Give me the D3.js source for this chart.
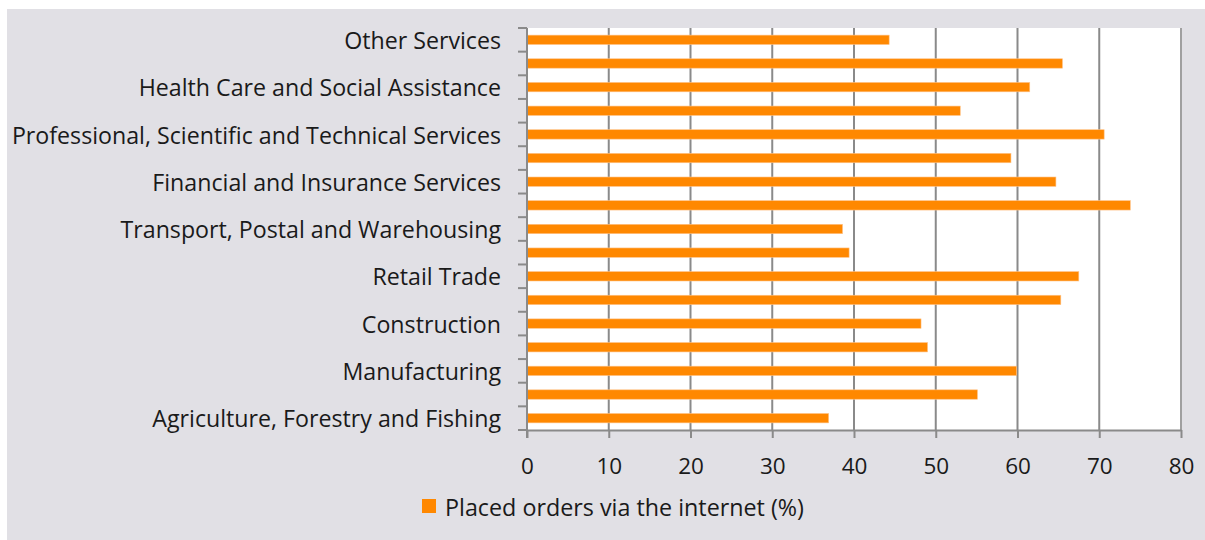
<!DOCTYPE html>
<html>
<head>
<meta charset="utf-8">
<script src="https://cdn.jsdelivr.net/npm/d3@7"></script>
<style>
  html, body { margin: 0; padding: 0; background: #ffffff; }
  svg { display: block; }
  text { font-family: "Open Sans", sans-serif; fill: #1a1a1a; }
</style>
</head>
<body>
<svg id="chart" width="1205" height="540"></svg>
<script>
// Categories, bottom to top
const categories = [
  "Agriculture, Forestry and Fishing",
  "Mining",
  "Manufacturing",
  "Electricity, Gas, Water and Waste Services",
  "Construction",
  "Wholesale Trade",
  "Retail Trade",
  "Accommodation and Food Services",
  "Transport, Postal and Warehousing",
  "Information Media and Telecommunications",
  "Financial and Insurance Services",
  "Rental, Hiring and Real Estate Services",
  "Professional, Scientific and Technical Services",
  "Administrative and Support Services",
  "Health Care and Social Assistance",
  "Arts and Recreation Services",
  "Other Services"
];
const values = [36.9, 55.1, 59.9, 49.0, 48.2, 65.3, 67.5, 39.4, 38.6, 73.8, 64.7, 59.2, 70.6, 53.0, 61.5, 65.5, 44.3];
const seriesName = "Placed orders via the internet (%)";
const xTicks = [0, 10, 20, 30, 40, 50, 60, 70, 80];

const svg = d3.select("#chart");
const W = 1205, H = 540;
const m = { left: 527, right: 1181, top: 28, bottom: 430 };
const FONT = "'Open Sans', sans-serif";

// background
svg.append("rect").attr("x", 7).attr("y", 9).attr("width", W - 7).attr("height", H - 9).attr("fill", "#e1e0e5");
svg.append("rect").attr("x", m.left).attr("y", m.top).attr("width", m.right - m.left).attr("height", m.bottom - m.top).attr("fill", "#ffffff");

const x = d3.scaleLinear().domain([0, 80]).range([m.left, m.right]);
const yOuter = d3.scaleBand().domain(categories).range([m.bottom, m.top]);

// gridlines
svg.append("g").selectAll("line").data(xTicks.filter(d => d > 0)).join("line")
  .attr("x1", d => x(d)).attr("x2", d => x(d))
  .attr("y1", m.top).attr("y2", m.bottom)
  .attr("stroke", d => d === 80 ? "#a0a0a0" : "#8a8a8a").attr("stroke-width", 2);

// bars
svg.append("g").selectAll("rect").data(categories).join("rect")
  .attr("x", x(0))
  .attr("y", (d) => yOuter(d) + (yOuter.bandwidth() - 9.4) / 2)
  .attr("height", 9.4)
  .attr("width", (d, i) => x(values[i]) - x(0))
  .attr("fill", "#ff8800")
  .attr("stroke", "#ffc48a").attr("stroke-width", 0.6);

// x axis
const xAxis = svg.append("g").attr("transform", `translate(0,${m.bottom})`)
  .call(d3.axisBottom(x).tickValues(xTicks).tickSize(8).tickPadding(20).tickSizeOuter(0));
xAxis.select(".domain").attr("stroke", "#8a8a8a").attr("stroke-width", 2);
xAxis.selectAll(".tick line").attr("stroke", "#8a8a8a").attr("stroke-width", 2);
xAxis.selectAll(".tick text").style("font-size", "22.5px").style("font-family", FONT).attr("fill", "#1a1a1a");

// y axis: line, ticks at band boundaries
const yg = svg.append("g");
yg.append("line").attr("x1", m.left).attr("x2", m.left).attr("y1", m.top).attr("y2", m.bottom + 8)
  .attr("stroke", "#8a8a8a").attr("stroke-width", 2);
const bounds = categories.map(c => yOuter(c)).concat([m.bottom]);
yg.selectAll("line.tk").data(bounds).join("line").attr("class", "tk")
  .attr("x1", m.left - 9).attr("x2", m.left)
  .attr("y1", d => d).attr("y2", d => d)
  .attr("stroke", "#8a8a8a").attr("stroke-width", 2);

// y labels: every other category
yg.selectAll("text").data(categories.filter((c, i) => i % 2 === 0)).join("text")
  .attr("x", m.left - 26)
  .attr("y", d => yOuter(d) + yOuter.bandwidth() / 2 + 1)
  .attr("dy", "0.35em")
  .attr("text-anchor", "end")
  .style("font-size", "23.2px")
  .text(d => d);

// legend
const lg = svg.append("g");
lg.append("rect").attr("x", 422).attr("y", 499).attr("width", 14).attr("height", 14).attr("fill", "#ff8800");
lg.append("text").attr("x", 445).attr("y", 508).attr("dy", "0.35em").style("font-size", "23.3px").text(seriesName);
</script>
</body>
</html>
